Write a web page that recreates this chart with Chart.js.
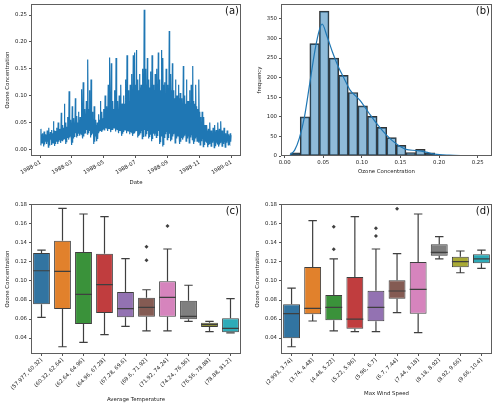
<!DOCTYPE html>
<html>
<head>
<meta charset="utf-8">
<script src="https://cdn.jsdelivr.net/npm/chart.js@4.4.0/dist/chart.umd.min.js"></script>
<style>
  body { margin: 0; background: #fff; width: 500px; height: 406px; overflow: hidden; position: relative; }
  canvas { position: absolute; }
</style>
</head>
<body>
<canvas id="chartA" width="250" height="200" style="left:0;top:0"></canvas>
<canvas id="chartB" width="250" height="200" style="left:250px;top:0"></canvas>
<canvas id="chartC" width="250" height="206" style="left:0;top:200px"></canvas>
<canvas id="chartD" width="250" height="206" style="left:250px;top:200px"></canvas>
<script>
// (a) ozone over 1988, per 3-day block: a low reading, a peak reading and the top of the dense band
var blockLows = [0.008,0.012,0.005,0.015,0.010,0.004,0.014,0.008,0.012,0.006,0.015,0.010,0.018,0.012,
  0.015,0.020,0.010,0.022,0.018,0.025,0.008,0.020,0.026,0.022,0.030,0.025,0.028,0.020,
  0.030,0.032,0.027,0.035,0.022,0.030,0.010,0.025,0.015,0.030,0.035,0.032,0.038,
  0.035,0.040,0.034,0.038,0.032,0.036,0.040,0.033,0.037,0.030,0.035,0.025,0.032,
  0.036,0.030,0.034,0.028,0.032,0.025,0.030,0.035,0.022,0.028,0.030,0.020,0.032,0.025,
  0.030,0.020,0.028,0.015,0.030,0.025,0.022,0.030,0.010,0.025,0.005,0.022,0.028,0.018,0.025,0.015,
  0.020,0.028,0.012,0.020,0.025,0.010,0.022,0.018,0.025,0.015,0.020,0.012,0.022,0.018,0.010,0.020,0.015,
  0.012,0.008,0.015,0.005,0.010,0.012,0.004,0.010,0.006,0.012,0.003,0.008,0.010,0.005,0.012,0.006,0.010,0.004,0.012,0.008,0.010];
var blockHighs = [0.038,0.030,0.033,0.028,0.035,0.040,0.032,0.036,0.052,0.034,0.040,0.050,0.038,0.068,
  0.045,0.085,0.050,0.060,0.108,0.055,0.080,0.058,0.095,0.062,0.070,0.060,0.112,0.125,
  0.075,0.090,0.167,0.110,0.130,0.070,0.080,0.055,0.050,0.065,0.090,0.070,0.075,
  0.100,0.080,0.120,0.171,0.160,0.090,0.110,0.170,0.090,0.100,0.120,0.085,0.100,
  0.130,0.175,0.110,0.120,0.140,0.175,0.180,0.185,0.130,0.140,0.120,0.150,0.260,0.150,
  0.170,0.130,0.145,0.175,0.120,0.140,0.150,0.180,0.130,0.185,0.170,0.125,0.150,0.120,0.220,0.140,
  0.160,0.110,0.130,0.100,0.120,0.105,0.095,0.155,0.100,0.130,0.090,0.110,0.120,0.155,0.085,0.120,0.075,
  0.130,0.060,0.070,0.060,0.045,0.045,0.038,0.050,0.035,0.040,0.045,0.036,0.050,0.038,0.052,0.035,0.040,0.030,0.035,0.028,0.030];
var blockCore = [0.028,0.025,0.030,0.026,0.030,0.028,0.032,0.030,0.035,0.030,0.033,0.035,0.036,0.040,
  0.040,0.045,0.042,0.048,0.050,0.045,0.050,0.048,0.055,0.050,0.055,0.052,0.058,0.060,
  0.060,0.065,0.075,0.070,0.065,0.055,0.050,0.045,0.045,0.055,0.060,0.058,0.062,
  0.065,0.068,0.075,0.085,0.090,0.075,0.080,0.090,0.075,0.080,0.085,0.075,0.085,
  0.095,0.100,0.090,0.100,0.105,0.110,0.120,0.125,0.110,0.115,0.110,0.120,0.130,0.120,
  0.125,0.115,0.120,0.125,0.110,0.115,0.120,0.125,0.110,0.125,0.120,0.105,0.115,0.105,0.120,0.110,
  0.110,0.095,0.100,0.090,0.095,0.085,0.080,0.095,0.085,0.090,0.075,0.080,0.085,0.090,0.070,0.080,0.065,
  0.070,0.050,0.050,0.045,0.038,0.035,0.032,0.035,0.030,0.032,0.033,0.030,0.035,0.030,0.035,0.028,0.030,0.025,0.028,0.025,0.026];
var monthTicks = [0, 60, 121, 182, 244, 305, 366];
var monthLabels = ['1988-01', '1988-03', '1988-05', '1988-07', '1988-09', '1988-11', '1989-01'];

// (b) histogram of ozone concentration
var histStart = 0.0077;
var histBinWidth = 0.01245;
var histCounts = [8, 100, 287, 370, 250, 206, 162, 128, 101, 73, 47, 27, 9, 17, 8, 2, 1, 1, 1, 1];
var kdeX = [0.007,0.013,0.019,0.0257,0.0326,0.0394,0.045,0.0485,0.055,0.062,0.0695,0.077,0.0845,0.097,0.108,0.119,0.1316,0.1445,0.157,0.170,0.183,0.194,0.213,0.230,0.256];
var kdeY = [3,15,45,100,186,271,322,337,305,265,228,198,169,143,113,83,54,31,17,14,10,5,2,1,0.5];

// (c) ozone by average temperature
var tempLabels = ['(57.977, 60.32]', '(60.32, 62.64]', '(62.64, 64.96]', '(64.96, 67.28]', '(67.28, 69.6]',
  '(69.6, 71.92]', '(71.92, 74.24]', '(74.24, 76.56]', '(76.56, 78.88]', '(78.88, 81.2]'];
var tempMin = [0.0618, 0.0308, 0.0355, 0.0435, 0.0523, 0.0474, 0.0474, 0.0576, 0.0467, 0.0453];
var tempQ1  = [0.0755, 0.0705, 0.0547, 0.0663, 0.0618, 0.0624, 0.0624, 0.0598, 0.0516, 0.0460];
var tempMed = [0.1108, 0.1102, 0.0860, 0.0961, 0.0709, 0.0723, 0.0828, 0.0628, 0.0540, 0.0502];
var tempQ3  = [0.1295, 0.1424, 0.1305, 0.1288, 0.0884, 0.0824, 0.0997, 0.0793, 0.0561, 0.0607];
var tempMax = [0.1326, 0.1765, 0.1705, 0.1677, 0.1235, 0.0908, 0.1337, 0.0955, 0.0576, 0.0814];
var tempOutliers = [[], [], [], [], [], [0.1361, 0.1218], [0.1579], [], [], []];

// (d) ozone by max wind speed
var windLabels = ['(2.993, 3.74]', '(3.74, 4.48]', '(4.48, 5.22]', '(5.22, 5.96]', '(5.96, 6.7]',
  '(6.7, 7.44]', '(7.44, 8.18]', '(8.18, 8.92]', '(8.92, 9.66]', '(9.66, 10.4]'];
var windMin = [0.0308, 0.0579, 0.0474, 0.0467, 0.0467, 0.0667, 0.0456, 0.1232, 0.1087, 0.1133];
var windQ1  = [0.0397, 0.0649, 0.0586, 0.0498, 0.0576, 0.0814, 0.0656, 0.1267, 0.1144, 0.1186];
var windMed = [0.0656, 0.0712, 0.0723, 0.0598, 0.0723, 0.0895, 0.0912, 0.1302, 0.1203, 0.1232];
var windQ3  = [0.0755, 0.1147, 0.0853, 0.1042, 0.0898, 0.1007, 0.1200, 0.1386, 0.1256, 0.1281];
var windMax = [0.0926, 0.1635, 0.1232, 0.1677, 0.1337, 0.1288, 0.1705, 0.1467, 0.1316, 0.1326];
var windOutliers = [[], [], [0.1572, 0.1334], [], [0.1554, 0.1474], [0.1761], [], [], [], []];

var boxTicks = [0.04, 0.06, 0.08, 0.10, 0.12, 0.14, 0.16, 0.18];
var boxColors = ['#3274a1', '#e1812c', '#3a923a', '#c03d3e', '#9372b2', '#845b53', '#d684bd', '#7f7f7f', '#a9aa35', '#2eabb8'];
var lineGray = '#3f3f3f';

Chart.defaults.font.family = '"DejaVu Sans", sans-serif';
Chart.defaults.animation = false;
var FONT = {family: '"DejaVu Sans", sans-serif', size: 5.4};
var TXT = '#222';

// draws the full axes box and the panel letter
var panelPlugin = {
  id: 'panel',
  afterDraw: function(chart, args, opts) {
    var ctx = chart.ctx, a = chart.chartArea;
    ctx.save();
    ctx.strokeStyle = '#5e5e5e';
    ctx.lineWidth = 1;
    ctx.strokeRect(Math.round(a.left) + 0.5, Math.round(a.top) + 0.5,
      Math.round(a.right - a.left) - 1, Math.round(a.bottom - a.top) - 1);
    ctx.font = '10px "DejaVu Sans"';
    ctx.fillStyle = '#111';
    ctx.textAlign = 'right';
    ctx.textBaseline = 'top';
    ctx.fillText(opts.text, a.right - 2, a.top + 2);
    ctx.restore();
  }
};

function yAxis(min, max, ticks, title, titlePad, fmt) {
  return {
    type: 'linear', min: min, max: max,
    afterFit: function(s) { s.width = 31; s.paddingTop = 0; s.paddingBottom = 0; },
    afterBuildTicks: function(s) { s.ticks = ticks.map(function(v) { return {value: v}; }); },
    ticks: {font: FONT, color: TXT, padding: 2, autoSkip: false, callback: fmt},
    grid: {drawOnChartArea: false, drawTicks: true, tickLength: 2, color: '#555', offset: false},
    border: {display: false},
    title: {display: true, text: title, font: FONT, color: TXT, padding: {top: titlePad, bottom: 0}}
  };
}

function xAxis(min, max, ticks, labels, rot, title, titlePad, height) {
  return {
    type: 'linear', min: min, max: max, offset: false,
    afterFit: function(s) { s.height = height; s.paddingLeft = 0; s.paddingRight = 0; },
    afterBuildTicks: function(s) { s.ticks = ticks.map(function(v) { return {value: v}; }); },
    ticks: {font: FONT, color: TXT, padding: 1, autoSkip: false, maxRotation: rot, minRotation: rot,
      callback: function(v, i) { return labels[i]; }},
    grid: {drawOnChartArea: false, drawTicks: true, tickLength: 2, color: '#555', offset: false},
    border: {display: false},
    title: {display: true, text: title, font: FONT, color: TXT, padding: {top: 0, bottom: titlePad}}
  };
}

var basePlugins = function(label) {
  return {legend: {display: false}, tooltip: {enabled: false}, panel: {text: label}};
};

// ---- (a) time series
var seriesPoints = [];
for (var k = 0; k < blockHighs.length; k++) {
  seriesPoints.push({x: 3 * k, y: blockLows[k]});
  seriesPoints.push({x: 3 * k + 0.75, y: blockHighs[k]});
  seriesPoints.push({x: 3 * k + 1.5, y: blockLows[k] + 0.004});
  seriesPoints.push({x: 3 * k + 2.25, y: blockCore[k]});
}
new Chart(document.getElementById('chartA'), {
  type: 'line',
  data: {datasets: [{data: seriesPoints, borderColor: '#1f77b4', borderWidth: 1.2, pointRadius: 0, tension: 0}]},
  options: {
    responsive: false,
    layout: {padding: {top: 4, right: 9, left: 0, bottom: 0}},
    plugins: basePlugins('(a)'),
    scales: {
      x: xAxis(-18.3, 384.3, monthTicks, monthLabels, 30, 'Date', 14, 44),
      y: yAxis(-0.0125, 0.2705, [0, 0.05, 0.10, 0.15, 0.20, 0.25], 'Ozone Concentration', 4,
        function(v) { return v.toFixed(2); })
    }
  },
  plugins: [panelPlugin]
});

// ---- (b) histogram + kde
var histBars = histCounts.map(function(c, i) { return {x: histStart + (i + 0.5) * histBinWidth, y: c}; });
var kdePoints = kdeX.map(function(x, i) { return {x: x, y: kdeY[i]}; });
var histTicks = [0, 0.05, 0.10, 0.15, 0.20, 0.25];
new Chart(document.getElementById('chartB'), {
  type: 'bar',
  data: {datasets: [
    {type: 'line', data: kdePoints, borderColor: '#1f77b4', borderWidth: 1.2, pointRadius: 0,
      cubicInterpolationMode: 'monotone', order: 0},
    {type: 'bar', data: histBars, backgroundColor: 'rgba(31,119,180,0.5)', borderColor: '#333',
      borderWidth: 1, borderSkipped: false, barPercentage: 1, categoryPercentage: 1, order: 1}
  ]},
  options: {
    responsive: false,
    layout: {padding: {top: 4, right: 8, left: 0, bottom: 0}},
    plugins: basePlugins('(b)'),
    scales: {
      x: xAxis(-0.0047, 0.2685, histTicks, histTicks.map(function(v) { return v.toFixed(2); }), 0,
        'Ozone Concentration', 25, 44),
      y: yAxis(0, 388, [0, 50, 100, 150, 200, 250, 300, 350], 'frequency', 6.5,
        function(v) { return String(v); })
    }
  },
  plugins: [panelPlugin]
});

// ---- (c), (d) box plots built from floating bars and line segments
function boxChart(canvasId, label, cats, mins, q1s, meds, q3s, maxs, outliers, xTitle, titlePad, rightPad) {
  var whiskers = [], medians = [], boxes = [], fliers = [];
  for (var i = 0; i < cats.length; i++) {
    whiskers.push({x: i, y: mins[i]}, {x: i, y: q1s[i]}, {x: i, y: null},
      {x: i, y: q3s[i]}, {x: i, y: maxs[i]}, {x: i, y: null},
      {x: i - 0.2, y: mins[i]}, {x: i + 0.2, y: mins[i]}, {x: i, y: null},
      {x: i - 0.2, y: maxs[i]}, {x: i + 0.2, y: maxs[i]}, {x: i, y: null});
    medians.push({x: i - 0.4, y: meds[i]}, {x: i + 0.4, y: meds[i]}, {x: i, y: null});
    boxes.push({x: i, y: [q1s[i], q3s[i]]});
    outliers[i].forEach(function(v) { fliers.push({x: i, y: v}); });
  }
  var idx = cats.map(function(c, i) { return i; });
  new Chart(document.getElementById(canvasId), {
    type: 'bar',
    data: {datasets: [
      {type: 'scatter', data: fliers, pointStyle: 'rectRot', pointRadius: 2, backgroundColor: lineGray,
        borderColor: lineGray, borderWidth: 0, order: 0},
      {type: 'line', data: medians, borderColor: lineGray, borderWidth: 1.2, pointRadius: 0, spanGaps: false, order: 0},
      {type: 'bar', data: boxes, backgroundColor: boxColors, borderColor: lineGray, borderWidth: 1,
        borderSkipped: false, barPercentage: 0.8, categoryPercentage: 1, order: 1},
      {type: 'line', data: whiskers, borderColor: lineGray, borderWidth: 1.2, pointRadius: 0, spanGaps: false, order: 2}
    ]},
    options: {
      responsive: false,
      layout: {padding: {top: 4, right: rightPad, left: 0, bottom: 0}},
      plugins: basePlugins(label),
      scales: {
        x: xAxis(-0.5, cats.length - 0.5, idx, cats, 45, xTitle, titlePad, 52),
        y: yAxis(0.02316, 0.18105, boxTicks, 'Ozone Concentration', 4,
          function(v) { return v.toFixed(2); })
      }
    },
    plugins: [panelPlugin]
  });
}

boxChart('chartC', '(c)', tempLabels, tempMin, tempQ1, tempMed, tempQ3, tempMax, tempOutliers,
  'Average Temperature', 2.8, 9);
boxChart('chartD', '(d)', windLabels, windMin, windQ1, windMed, windQ3, windMax, windOutliers,
  'Max Wind Speed', 9.5, 8);
</script>
</body>
</html>
